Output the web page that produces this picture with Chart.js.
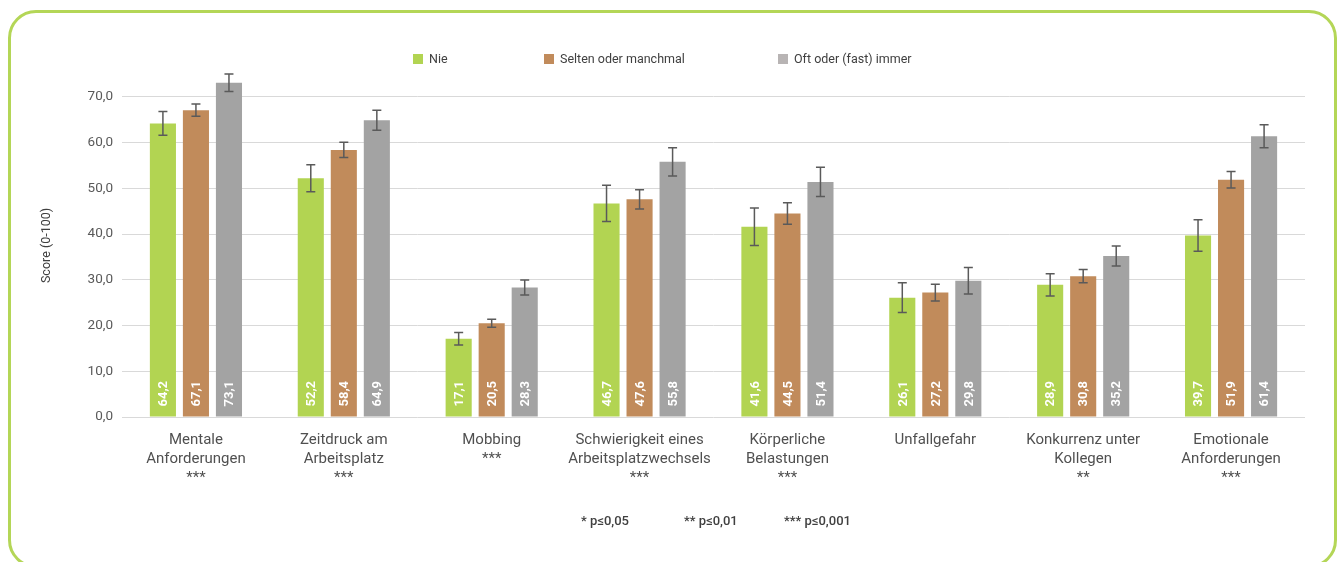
<!DOCTYPE html>
<html>
<head>
<meta charset="utf-8">
<script src="https://cdn.jsdelivr.net/npm/chart.js@4/dist/chart.umd.min.js"></script>
<style>
  html, body { margin: 0; padding: 0; background: #fff; }
  #wrap { position: relative; width: 1340px; height: 562px; overflow: hidden; font-family: Roboto, sans-serif; }
  #frame { position: absolute; left: 8px; top: 10px; width: 1323px; height: 552px; border: 3px solid #b4d657; border-radius: 28px; }
  #chart { position: absolute; left: 0; top: 0; }
  .leg { position: absolute; top: 52px; font-size: 12.5px; color: #404040; line-height: 14px; white-space: nowrap; }
  .leg i { display: inline-block; width: 10px; height: 10px; margin-right: 6px; vertical-align: -1px; }
  .note { position: absolute; top: 513px; font-size: 13px; font-weight: 500; color: #404040; white-space: nowrap; }
</style>
</head>
<body>
<div id="wrap">
  <div id="frame"></div>
  <canvas id="chart" width="1340" height="562"></canvas>
  <div id="legend"></div>
  <span class="note" style="left:581px">* p≤0,05</span>
  <span class="note" style="left:684px">** p≤0,01</span>
  <span class="note" style="left:784px">*** p≤0,001</span>
</div>
<script>
const categories = [
  ['Mentale', 'Anforderungen', '***'],
  ['Zeitdruck am', 'Arbeitsplatz', '***'],
  ['Mobbing', '***'],
  ['Schwierigkeit eines', 'Arbeitsplatzwechsels', '***'],
  ['Körperliche', 'Belastungen', '***'],
  ['Unfallgefahr'],
  ['Konkurrenz unter', 'Kollegen', '**'],
  ['Emotionale', 'Anforderungen', '***']
];
const seriesNames = ['Nie', 'Selten oder manchmal', 'Oft oder (fast) immer'];
const nie = [64.2, 52.2, 17.1, 46.7, 41.6, 26.1, 28.9, 39.7];
const selten = [67.1, 58.4, 20.5, 47.6, 44.5, 27.2, 30.8, 51.9];
const oft = [73.1, 64.9, 28.3, 55.8, 51.4, 29.8, 35.2, 61.4];
const nieErr = [2.6, 2.95, 1.35, 3.95, 4.1, 3.25, 2.45, 3.45];
const seltenErr = [1.35, 1.65, 0.85, 2.1, 2.35, 1.85, 1.45, 1.8];
const oftErr = [1.9, 2.2, 1.65, 3.1, 3.2, 2.9, 2.2, 2.5];
const yTicks = [0, 10, 20, 30, 40, 50, 60, 70];

const barColors = ['#b2d452', '#c18b5b', '#a3a3a3'];
const legendColors = ['#b2d452', '#c18b5b', '#b8b4b4'];
const legendLeft = [413, 544, 778];

const fmt = v => v.toFixed(1).replace('.', ',');

// legend as html, built from the series names
const legend = document.getElementById('legend');
seriesNames.forEach((name, i) => {
  const el = document.createElement('span');
  el.className = 'leg';
  el.style.left = legendLeft[i] + 'px';
  el.innerHTML = '<i style="background:' + legendColors[i] + '"></i>' + name;
  legend.appendChild(el);
});

const errorBars = {
  id: 'errorBars',
  afterDatasetsDraw(chart) {
    const ctx = chart.ctx;
    const y = chart.scales.y;
    ctx.save();
    ctx.strokeStyle = '#5a5a5a';
    ctx.lineWidth = 1.5;
    chart.data.datasets.forEach((ds, di) => {
      chart.getDatasetMeta(di).data.forEach((bar, i) => {
        const v = ds.data[i], e = ds.err[i];
        const top = y.getPixelForValue(v + e);
        const bot = y.getPixelForValue(v - e);
        ctx.beginPath();
        ctx.moveTo(bar.x, top); ctx.lineTo(bar.x, bot);
        ctx.moveTo(bar.x - 4.5, top); ctx.lineTo(bar.x + 4.5, top);
        ctx.moveTo(bar.x - 4.5, bot); ctx.lineTo(bar.x + 4.5, bot);
        ctx.stroke();
      });
    });
    ctx.restore();
  }
};

const barLabels = {
  id: 'barLabels',
  afterDatasetsDraw(chart) {
    const ctx = chart.ctx;
    ctx.save();
    ctx.fillStyle = '#ffffff';
    ctx.font = 'bold 13px Roboto';
    ctx.textAlign = 'left';
    ctx.textBaseline = 'middle';
    chart.data.datasets.forEach((ds, di) => {
      chart.getDatasetMeta(di).data.forEach((bar, i) => {
        ctx.save();
        ctx.translate(bar.x, bar.base - 10);
        ctx.rotate(-Math.PI / 2);
        ctx.fillText(fmt(ds.data[i]), 0, 1);
        ctx.restore();
      });
    });
    ctx.restore();
  }
};

new Chart(document.getElementById('chart'), {
  type: 'bar',
  data: {
    labels: categories,
    datasets: [
      { label: seriesNames[0], data: nie, err: nieErr, backgroundColor: barColors[0] },
      { label: seriesNames[1], data: selten, err: seltenErr, backgroundColor: barColors[1] },
      { label: seriesNames[2], data: oft, err: oftErr, backgroundColor: barColors[2] }
    ]
  },
  options: {
    responsive: false,
    animation: false,
    devicePixelRatio: 1,
    categoryPercentage: 0.67,
    barPercentage: 0.79,
    layout: { padding: { top: 74, right: 35, left: 0, bottom: 45 } },
    plugins: { legend: { display: false }, tooltip: { enabled: false } },
    scales: {
      x: {
        grid: { display: false, drawTicks: false },
        border: { display: false },
        ticks: {
          color: '#505050',
          font: { family: 'Roboto', size: 15, lineHeight: 1.27 },
          padding: 14,
          maxRotation: 0,
          autoSkip: false
        },
        afterFit: s => { s.height = 100; }
      },
      y: {
        min: 0,
        max: 75,
        afterBuildTicks: s => { s.ticks = yTicks.map(v => ({ value: v })); },
        afterFit: s => { s.width = 122; },
        grid: { color: '#d9d9d9', lineWidth: 1, drawTicks: false },
        border: { display: false },
        ticks: {
          color: '#595959',
          font: { family: 'Roboto', size: 13.5 },
          padding: 9,
          callback: v => fmt(v)
        },
        title: {
          display: true,
          text: 'Score (0-100)',
          color: '#404040',
          font: { family: 'Roboto', size: 12.5 },
          padding: { top: 39, bottom: 0 }
        }
      }
    }
  },
  plugins: [errorBars, barLabels]
});
</script>
</body>
</html>
